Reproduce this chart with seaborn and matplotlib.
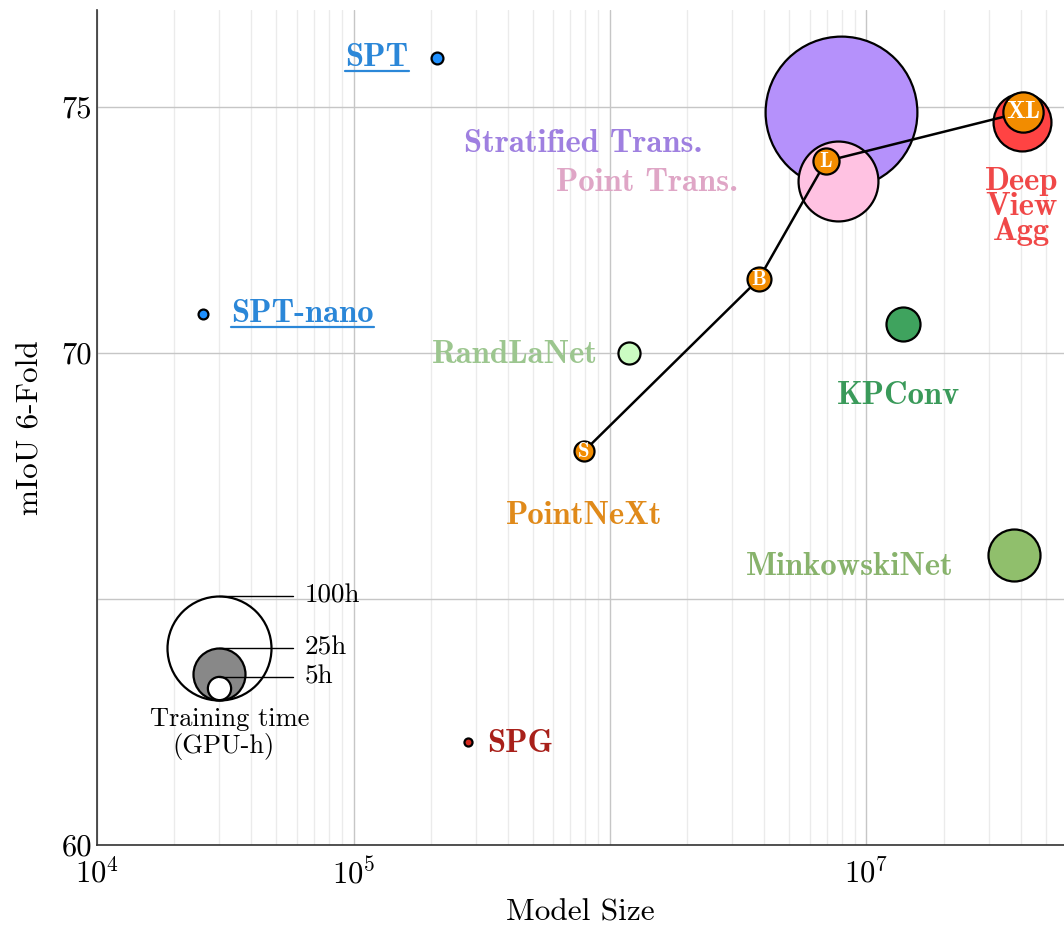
import matplotlib.pyplot as plt
import seaborn as sns
import numpy as np
from matplotlib.lines import Line2D
from matplotlib.ticker import LogLocator, NullFormatter

# =========================
# DATA
# =========================
models = ["SPT", "SPT-nano", "SPG", "RandLaNet", "KPConv", "MinkowskiNet",
          "Stratified Trans.", "Point Trans.", "DeepViewAgg"]
params = [2.12e5, 2.59e4, 2.79e5, 1.19e6, 1.39e7, 3.76e7, 7.95e6, 7.75e6, 4.03e7]
miou = [76.0, 70.8, 62.1, 70.0, 70.6, 65.9, 74.9, 73.5, 74.7]
gpu_hours = [1.3, 0.9, 0.6, 4.5, 10.7, 25.0, 213.0, 59.0, 31.0]

fill_colors = ["#1e90ff", "#1e90ff", "#d42a1f", "#cbfcc2", "#3fa35e", "#90bf6c",
               "#b591fb", "#ffc2e2", "#ff4343"]
text_colors = ["#2b87d8", "#2b87d8", "#a8201a", "#9cc68f", "#3a9a5a", "#88b36c",
               "#9f80e0", "#dfa6c6", "#f04848"]
display_names = ["SPT", "SPT-nano", "SPG", "RandLaNet", "KPConv", "MinkowskiNet",
                 "Stratified Trans.", "Point Trans.", "Deep\nView\nAgg"]

# PointNeXt family
pnx_names = ["S", "B", "L", "XL"]
pnx_params = [7.9e5, 3.8e6, 6.95e6, 4.07e7]
pnx_miou = [68.0, 71.5, 73.9, 74.9]
pnx_hours = [3.7, 5.3, 6.3, 15.0]
pnx_color = "#f28c00"
pnx_text_color = "#e08a1a"

legend_hours = [100, 25, 5]
legend_fills = ["white", "#888888", "white"]

# label placement: (x, y, ha)
label_pos = {
    "SPT": (1.64e5, 76.0, "right"),
    "SPT-nano": (3.33e4, 70.8, "left"),
    "SPG": (3.31e5, 62.06, "left"),
    "RandLaNet": (8.97e5, 69.97, "right"),
    "KPConv": (1.33e7, 69.13, "center"),
    "MinkowskiNet": (8.63e6, 65.67, "center"),
    "Stratified Trans.": (7.85e5, 74.25, "center"),
    "Point Trans.": (1.39e6, 73.46, "center"),
    "DeepViewAgg": (4.03e7, 72.98, "center"),
}

# =========================
# STYLE
# =========================
sns.set_theme(style="white")
plt.rcParams['font.family'] = ['cmr10', 'DejaVu Serif']
plt.rcParams['mathtext.fontset'] = 'cm'
plt.rcParams['axes.unicode_minus'] = False
plt.rcParams['axes.formatter.use_mathtext'] = True
plt.rcParams['text.color'] = 'black'
plt.rcParams['axes.labelcolor'] = 'black'
plt.rcParams['xtick.labelcolor'] = 'black'
plt.rcParams['ytick.labelcolor'] = 'black'

BOLD = ['cmb10', 'DejaVu Serif']
LABEL_FS = 23.5

def area(h):
    # marker radius in px = 5.2*sqrt(h), 1px = 0.72pt
    r_pt = 5.2 * np.sqrt(h) * 0.72
    return (2 * r_pt) ** 2

fig = plt.figure(figsize=(10.64, 9.27), dpi=100)
ax = fig.add_axes([0.0912, 0.0885, 0.9088, 0.9005])
ax.set_xscale("log")
ax.set_xlim(1e4, 5.89e7)
ax.set_ylim(60, 76.97)

# grid
ax.xaxis.set_minor_locator(LogLocator(base=10, subs=np.arange(2, 10)))
ax.xaxis.set_minor_formatter(NullFormatter())
ax.grid(which="major", color="#c6c6c6", linewidth=1.0, zorder=0)
ax.grid(which="minor", axis="x", color="#ebebeb", linewidth=1.0, zorder=0)
ax.set_axisbelow(True)

ax.set_xticks([1e4, 1e5, 1e6, 1e7])
ax.set_xticklabels(["$10^4$", "$10^5$", "", "$10^7$"])
ax.set_yticks([60, 65, 70, 75])
ax.set_yticklabels(["60", "", "70", "75"])
ax.tick_params(axis="both", which="major", direction="in", length=6, width=0.8,
               labelsize=22, color="#555555")
ax.tick_params(axis="x", which="minor", direction="in", length=4, width=0.6,
               color="#888888")
ax.tick_params(axis="x", pad=9)
for s in ["top", "right"]:
    ax.spines[s].set_visible(False)
for s in ["left", "bottom"]:
    ax.spines[s].set_color("#333333")
    ax.spines[s].set_linewidth(1.2)

ax.set_xlabel("Model Size", fontsize=22.5, labelpad=6)
ax.set_ylabel("mIoU 6-Fold", fontsize=22.5, labelpad=12)

# =========================
# MODELS
# =========================
order = np.argsort(gpu_hours)[::-1]
for rank, i in enumerate(order):
    sns.scatterplot(x=[params[i]], y=[miou[i]], s=area(gpu_hours[i]),
                    color=fill_colors[i], edgecolor="black", linewidth=1.6,
                    zorder=3 + rank * 0.1, ax=ax, legend=False)

# PointNeXt line + markers
sns.lineplot(x=pnx_params, y=pnx_miou, color="black", linewidth=1.8,
             sort=False, ax=ax, zorder=5, legend=False)
for n, xv, yv, h in zip(pnx_names, pnx_params, pnx_miou, pnx_hours):
    sns.scatterplot(x=[xv], y=[yv], s=area(h), color=pnx_color,
                    edgecolor="black", linewidth=1.6, zorder=6, ax=ax, legend=False)
    ax.text(xv, yv, n, color="white", fontsize=15 if n != "XL" else 18,
            family=BOLD, ha="center", va="center", zorder=7)

# labels
texts = {}
for i, m in enumerate(models):
    xv, yv, ha = label_pos[m]
    t = ax.text(xv, yv, display_names[i], color=text_colors[i], fontsize=LABEL_FS,
                family=BOLD, ha=ha, va="center", linespacing=0.84, zorder=8)
    texts[m] = t
ax.text(7.9e5, 66.7, "PointNeXt", color=pnx_text_color, fontsize=LABEL_FS,
        family=BOLD, ha="center", va="center", zorder=8)

# =========================
# SIZE LEGEND
# =========================
leg_x = 2.99e4
base_y = 62.95
fig.canvas.draw()
base_px = ax.transData.transform((leg_x, base_y))
for h, fc in zip(legend_hours, legend_fills):
    r = 5.2 * np.sqrt(h)
    c = ax.transData.inverted().transform((base_px[0], base_px[1] + r))
    top = ax.transData.inverted().transform((base_px[0], base_px[1] + 2 * r))
    sns.scatterplot(x=[leg_x], y=[c[1]], s=area(h), color=fc, edgecolor="black",
                    linewidth=1.6, zorder=4, ax=ax, legend=False)
    end = ax.transData.inverted().transform((293, 0))[0]
    ax.plot([leg_x, end], [top[1], top[1]], color="black", linewidth=1.0, zorder=4)
    lab = ax.transData.inverted().transform((305, 0))[0]
    ax.text(lab, top[1], f"{h}h", fontsize=19.5, ha="left", va="center", zorder=8)

ax.text(3.3e4, 62.55, "Training time", fontsize=19, ha="center", va="center")
ax.text(3.1e4, 62.0, "(GPU-h)", fontsize=19, ha="center", va="center")

# underline SPT labels
fig.canvas.draw()
renderer = fig.canvas.get_renderer()
W = fig.dpi * fig.get_figwidth()
H = fig.dpi * fig.get_figheight()
for m in ["SPT", "SPT-nano"]:
    bb = texts[m].get_window_extent(renderer)
    y = bb.y0 + 1
    fig.add_artist(Line2D([bb.x0 / W, bb.x1 / W], [y / H] * 2,
                          transform=fig.transFigure, color=text_colors[models.index(m)],
                          linewidth=1.6))

plt.savefig("out.png", dpi=100)
plt.close()
